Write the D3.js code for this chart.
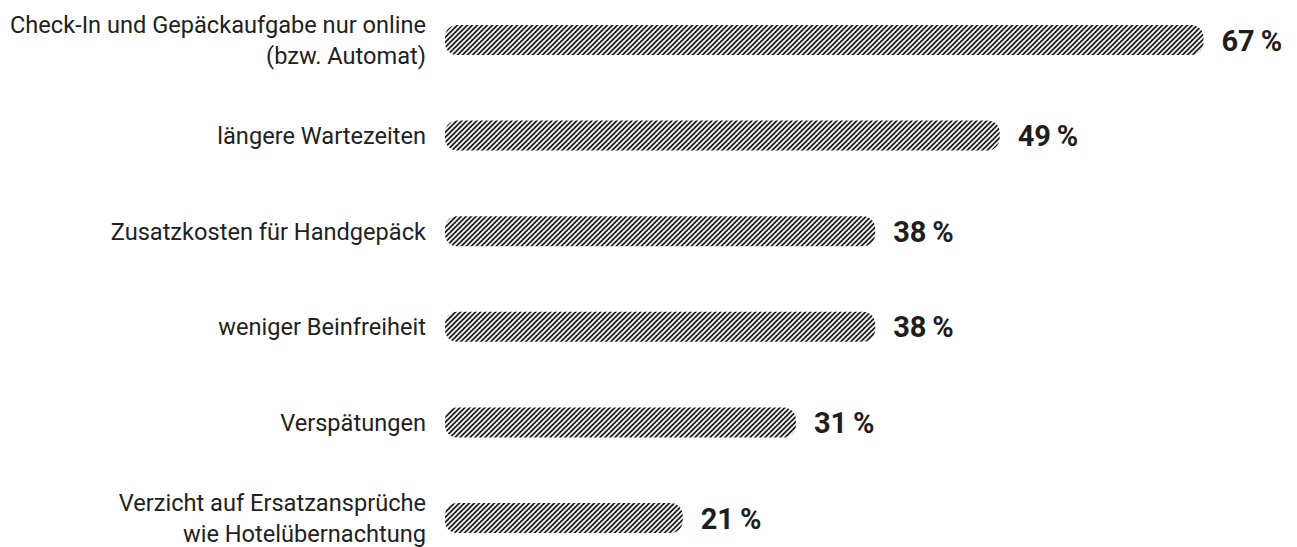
<!DOCTYPE html>
<html>
<head>
<meta charset="utf-8">
<script src="https://cdn.jsdelivr.net/npm/d3@7"></script>
<style>
  html, body { margin: 0; padding: 0; background: #fff; }
  svg { display: block; }
</style>
</head>
<body>
<svg id="chart" width="1297" height="547"></svg>
<script>
const categories = [
  "Check-In und Gepäckaufgabe nur online\n(bzw. Automat)",
  "längere Wartezeiten",
  "Zusatzkosten für Handgepäck",
  "weniger Beinfreiheit",
  "Verspätungen",
  "Verzicht auf Ersatzansprüche\nwie Hotelübernachtung"
];
const values = [67, 49, 38, 38, 31, 21];
const valueLabels = ["67\u2009%", "49\u2009%", "38\u2009%", "38\u2009%", "31\u2009%", "21\u2009%"];

const svg = d3.select("#chart");
const x0 = 445;
const x = d3.scaleLinear().domain([0, 100]).range([x0, x0 + 1132]);
const y = d3.scalePoint().domain(categories).range([40, 518]);
const barH = 30;

const defs = svg.append("defs");
const pw = 5 * Math.SQRT1_2;
const pat = defs.append("pattern")
  .attr("id", "hatch")
  .attr("patternUnits", "userSpaceOnUse")
  .attr("width", pw).attr("height", pw)
  .attr("patternTransform", "rotate(45)");
pat.append("rect")
  .attr("x", pw / 2 - 0.9).attr("y", -1).attr("width", 1.8).attr("height", pw + 2)
  .attr("fill", "#222")
  .attr("shape-rendering", "crispEdges");

const rows = categories.map((c, i) => ({cat: c, v: values[i], lab: valueLabels[i]}));

svg.append("g").selectAll("rect").data(rows).join("rect")
  .attr("x", x(0))
  .attr("y", d => y(d.cat) - barH / 2)
  .attr("width", d => x(d.v) - x(0))
  .attr("height", barH)
  .attr("rx", 12).attr("ry", 12)
  .attr("fill", "url(#hatch)");

const labG = svg.append("g")
  .attr("font-family", "Roboto, 'Noto Sans', sans-serif")
  .attr("font-size", 23.6)
  .attr("fill", "#222");
labG.selectAll("text").data(rows).join("text")
  .attr("text-anchor", "end")
  .each(function(d) {
    const lines = d.cat.split("\n");
    const t = d3.select(this);
    const lh = 31;
    const cy = y(d.cat);
    lines.forEach((ln, j) => {
      t.append("tspan")
        .attr("x", x(0) - 19)
        .attr("y", cy + 8.5 + (j - (lines.length - 1) / 2) * lh)
        .text(ln);
    });
  });

svg.append("g")
  .attr("font-family", "Roboto, 'Noto Sans', sans-serif")
  .attr("font-size", 29)
  .attr("font-weight", 700)
  .attr("fill", "#1e1e1e")
  .selectAll("text").data(rows).join("text")
  .attr("x", d => x(d.v) + 18)
  .attr("y", d => y(d.cat) + 10.5)
  .text(d => d.lab);
</script>
</body>
</html>
